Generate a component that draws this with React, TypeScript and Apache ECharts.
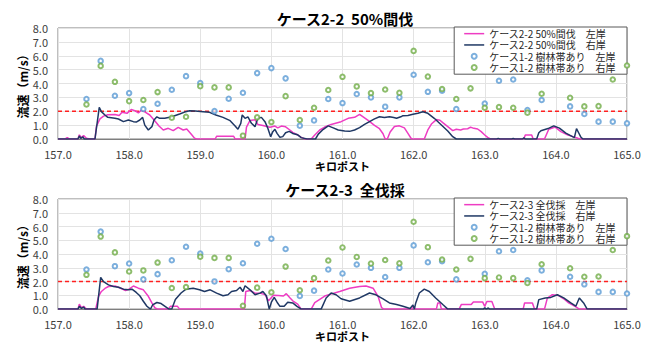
import React, { useEffect, useRef } from "react";
import * as echarts from "echarts";

// ---- data (km post, velocity m/s) ----
const case22Left: number[][] = [
  [157.0, 0], [157.1, 0], [157.13, 0.1], [157.16, 0], [157.28, 0], [157.3, 0.3], [157.33, 0.1], [157.36, 0.25], [157.4, 0.05], [157.45, 0],
  [157.52, 0], [157.54, 0.9], [157.59, 1.45], [157.64, 1.65], [157.7, 1.75], [157.8, 1.77], [157.86, 1.7], [157.9, 1.92], [157.97, 1.85],
  [158.03, 2.13], [158.08, 2.04], [158.13, 1.88], [158.17, 2.08], [158.22, 1.95], [158.29, 1.73], [158.36, 1.32], [158.42, 0.94], [158.48, 0.65],
  [158.55, 0.77], [158.62, 0.6], [158.69, 0.84], [158.76, 0.65], [158.81, 0.72], [158.88, 0.3], [158.92, 0.06], [158.95, 0],
  [159.21, 0], [159.23, 0.2], [159.47, 0.2], [159.49, 0], [159.63, 0], [159.65, 0.86], [159.7, 1.34], [159.77, 1.39], [159.81, 1.05],
  [159.88, 0.98], [159.98, 0.84], [160.05, 0.93], [160.09, 0.8], [160.14, 0.93], [160.2, 0.88], [160.26, 0.65], [160.3, 0.48], [160.37, 0.29],
  [160.42, 0.12], [160.47, 0], [160.56, 0], [160.61, 0.29], [160.68, 0.65], [160.75, 0.86], [160.84, 1.05], [160.98, 1.25], [161.08, 1.49],
  [161.17, 1.56], [161.24, 1.78], [161.29, 1.6], [161.36, 1.34], [161.45, 0.98], [161.52, 0.74], [161.57, 0.38], [161.6, 0], [161.63, 0],
  [161.67, 0.5], [161.73, 0.9], [161.8, 0.95], [161.87, 0.8], [161.92, 0.4], [161.97, 0], [162.15, 0], [162.2, 0.65], [162.25, 1.08],
  [162.32, 1.4], [162.37, 1.35], [162.41, 1.18], [162.48, 0.89], [162.55, 0.6], [162.6, 0.7], [162.66, 0.65], [162.7, 0.72], [162.76, 0.74],
  [162.8, 0.85], [162.83, 0.8], [162.9, 0.72], [162.95, 0.53], [163.0, 0.29], [163.04, 0.12], [163.08, 0], [163.55, 0], [163.57, 0.29],
  [163.66, 0.29], [163.68, 0], [163.84, 0], [163.9, 0.7], [163.99, 0.86], [164.07, 0.53], [164.17, 0.29], [164.24, 0.17], [164.31, 0.05],
  [164.35, 0], [165.0, 0],
];

const case22Right: number[][] = [
  [157.0, 0], [157.28, 0], [157.3, 0.22], [157.32, 0.05], [157.35, 0.15], [157.37, 0], [157.52, 0], [157.58, 2.28], [157.61, 1.97],
  [157.66, 1.73], [157.7, 1.56], [157.8, 1.49], [157.85, 1.44], [157.92, 1.25], [157.99, 1.37], [158.06, 1.25], [158.1, 1.22], [158.15, 1.37],
  [158.19, 1.56], [158.22, 1.0], [158.27, 0.65], [158.32, 0.89], [158.35, 1.37], [158.39, 1.6], [158.43, 1.49], [158.5, 1.49], [158.57, 1.56],
  [158.64, 1.68], [158.71, 1.8], [158.78, 1.94], [158.85, 2.04], [158.93, 2.01], [159.04, 1.97], [159.13, 1.92], [159.22, 1.73], [159.32, 1.56],
  [159.42, 1.32], [159.49, 0.94], [159.53, 0.7], [159.57, 1.13], [159.59, 1.73], [159.63, 1.49], [159.67, 1.6], [159.72, 1.13], [159.77, 0.89],
  [159.81, 1.49], [159.86, 1.56], [159.91, 1.25], [159.95, 0.77], [159.99, 0.17], [160.02, 0.53], [160.05, 0.7], [160.08, 0.41], [160.12, 0.12],
  [160.16, 0.17], [160.2, 0.45], [160.25, 0.55], [160.3, 0.4], [160.37, 0.3], [160.42, 0.1], [160.5, 0], [160.62, 0], [160.66, 0.35],
  [160.73, 0.7], [160.8, 0.95], [160.87, 0.8], [160.94, 0.65], [161.03, 0.58], [161.1, 0.55], [161.17, 0.65], [161.24, 0.82], [161.31, 1.05],
  [161.38, 1.25], [161.45, 1.45], [161.52, 1.6], [161.59, 1.55], [161.66, 1.61], [161.72, 1.55], [161.76, 1.49], [161.82, 1.6], [161.85, 1.68],
  [161.92, 1.7], [161.99, 1.78], [162.06, 1.85], [162.13, 1.97], [162.2, 1.85], [162.29, 1.49], [162.39, 1.01], [162.48, 0.58], [162.55, 0.17],
  [162.6, 0], [163.17, 0], [163.19, 0.05], [163.21, 0], [163.38, 0], [163.4, 0.04], [163.42, 0], [163.53, 0], [163.55, 0.08], [163.57, 0],
  [163.73, 0], [163.76, 0.45], [163.79, 0.6], [163.89, 0.75], [163.97, 0.95], [164.05, 0.78], [164.14, 0.42], [164.24, 0.15], [164.26, 0.1],
  [164.29, 0.75], [164.32, 0.45], [164.35, 0.15], [164.38, 0], [165.0, 0],
];

const case23Left: number[][] = [
  [157.0, 0], [157.28, 0], [157.3, 0.36], [157.33, 0.1], [157.36, 0.2], [157.4, 0], [157.53, 0], [157.57, 0.93], [157.61, 1.28],
  [157.66, 1.5], [157.71, 1.64], [157.8, 1.68], [157.85, 1.59], [157.95, 1.35], [158.0, 1.45], [158.06, 1.68], [158.13, 1.52], [158.2, 1.4],
  [158.27, 0.93], [158.32, 0.45], [158.36, 0.1], [158.4, 0], [158.55, 0], [158.58, 0.2], [158.68, 0.2], [158.71, 0], [159.62, 0],
  [159.64, 1.28], [159.7, 1.35], [159.77, 1.16], [159.84, 1.16], [159.91, 1.05], [159.96, 0.6], [160.03, 1.0], [160.1, 0.98], [160.17, 0.95],
  [160.21, 1.12], [160.26, 0.83], [160.3, 0.6], [160.37, 0.36], [160.42, 0], [160.56, 0], [160.61, 0.47], [160.68, 0.71], [160.75, 0.95],
  [160.82, 1.07], [160.96, 1.28], [161.1, 1.52], [161.24, 1.64], [161.33, 1.68], [161.43, 1.52], [161.5, 0.93], [161.55, 0.1], [161.58, 0],
  [161.98, 0], [162.0, 0.2], [162.02, 0], [162.32, 0], [162.34, 0.45], [162.37, 0.45], [162.39, 0], [162.64, 0], [162.67, 0.33],
  [162.81, 0.33], [162.84, 0.52], [162.97, 0.52], [163.0, 0.2], [163.03, 0.55], [163.1, 0.55], [163.14, 0], [163.54, 0], [163.56, 0.45],
  [163.67, 0.45], [163.7, 0], [163.84, 0], [163.88, 0.8], [163.95, 1.05], [164.04, 0.98], [164.11, 0.75], [164.18, 0.45], [164.27, 0.2],
  [164.33, 0], [165.0, 0],
];

const case23Right: number[][] = [
  [157.0, 0], [157.28, 0], [157.3, 0.2], [157.33, 0.05], [157.36, 0.15], [157.38, 0], [157.55, 0], [157.6, 2.3], [157.64, 1.99],
  [157.71, 1.76], [157.78, 1.64], [157.85, 1.59], [157.92, 1.45], [157.99, 1.4], [158.04, 1.45], [158.1, 1.21], [158.15, 0.97], [158.2, 0.57],
  [158.25, 0.21], [158.3, 0], [158.33, 0.3], [158.39, 0.48], [158.45, 0.4], [158.52, 0.15], [158.56, 0], [158.6, 0], [158.65, 0.69],
  [158.73, 1.17], [158.8, 1.45], [158.9, 1.52], [158.99, 1.4], [159.06, 1.28], [159.14, 1.4], [159.23, 1.16], [159.32, 0.97], [159.39, 1.04],
  [159.44, 1.28], [159.51, 1.35], [159.56, 1.59], [159.6, 1.28], [159.63, 1.7], [159.7, 1.4], [159.77, 1.04], [159.84, 1.16], [159.88, 1.28],
  [159.93, 0.97], [159.97, 0], [160.0, 0.5], [160.04, 0.85], [160.08, 0.5], [160.12, 0.2], [160.18, 0.2], [160.23, 0.5], [160.3, 0.45],
  [160.36, 0.2], [160.42, 0], [160.7, 0], [160.77, 0.81], [160.84, 1.17], [160.91, 1.04], [160.98, 0.75], [161.1, 0.57], [161.24, 0.81],
  [161.38, 1.17], [161.47, 1.04], [161.57, 0.74], [161.66, 0.45], [161.76, 0.33], [161.85, 0.21], [161.95, 0.05], [161.99, 0.3], [162.01, 0],
  [162.03, 0.45], [162.08, 1.17], [162.15, 1.45], [162.22, 1.28], [162.31, 0.81], [162.41, 0.33], [162.48, 0], [162.98, 0], [163.0, 0.1],
  [163.02, 0], [163.05, 0.08], [163.07, 0], [163.73, 0], [163.76, 0.69], [163.85, 0.81], [163.93, 0.85], [164.02, 1.04], [164.11, 0.81],
  [164.21, 0.45], [164.28, 0.21], [164.33, 0.81], [164.39, 0.45], [164.44, 0], [165.0, 0],
];

// ケース1-2 樹林帯あり (points every 0.2 km)
const forestKm: number[] = [
  157.4, 157.6, 157.8, 158.0, 158.2, 158.4, 158.6, 158.8, 159.0, 159.2, 159.4, 159.6, 159.8, 160.0, 160.2, 160.4, 160.6, 160.8,
  161.0, 161.2, 161.4, 161.6, 161.8, 162.0, 162.2, 162.4, 162.6, 162.8, 163.0, 163.2, 163.4, 163.6, 163.8, 164.0, 164.2, 164.4, 164.6, 164.8, 165.0,
];
const forestLeft: (number | null)[] = [
  2.88, 5.63, 3.12, 3.31, 2.16, 2.54, 3.55, 4.53, 4.03, 2.01, 2.9, 3.33, 4.75, 5.11, 4.37, 0.96, 1.34, 2.88,
  2.59, 3.24, 3.0, 2.33, 3.0, 4.63, 3.4, 3.48, 2.16, null, 2.56, 4.2, 4.29, 2.09, 2.81, null, 2.35, 1.8, 1.25, 1.25, 1.13,
];
const forestRight: (number | null)[] = [
  2.49, 5.27, 4.12, 2.73, 2.81, 3.38, 1.53, 1.6, 3.81, 3.72, 3.72, 0.24, 1.56, 1.22, 3.09, 1.37, 2.25, 3.53,
  4.48, 3.79, 3.31, 3.57, 3.33, 6.35, 4.5, 3.6, 2.88, 3.65, 2.25, 2.3, 2.25, 1.9, 3.26, null, 2.97, 2.35, 2.37, 4.29, 5.3,
];

const thresholdValue = 2.0;
const kmRange = [157.0, 165.0];
const velRange = [0, 8];

const titles = ["ケース2-2  50%間伐", "ケース2-3  全伐採"];
const nameC22L = "ケース2-2 50%間伐　左岸";
const nameC22R = "ケース2-2 50%間伐　右岸";
const nameC23L = "ケース2-3 全伐採　左岸";
const nameC23R = "ケース2-3 全伐採　右岸";
const nameFL = "ケース1-2 樹林帯あり　左岸";
const nameFR = "ケース1-2 樹林帯あり　右岸";

const FONT = '"Noto Sans CJK JP", "Noto Sans", sans-serif';
const PINK = "#ee3cc3";
const NAVY = "#1f3864";
const BLUE = "#5b9bd5";
const GREEN = "#70ad47";
const LINE_ICON = "path://M0,0 L40,0 L40,3 L0,3 Z";

function pts(vals: (number | null)[]) {
  const out: number[][] = [];
  forestKm.forEach((k, i) => {
    const v = vals[i];
    if (v !== null && v !== undefined) out.push([k, v]);
  });
  return out;
}

export default function App() {
  const ref = useRef<HTMLDivElement>(null);
  useEffect(() => {
    if (!ref.current) return;
    const chart = echarts.init(ref.current, null, { renderer: "svg" });
    const grids = [
      { left: 58, right: 28, top: 28, height: 111 },
      { left: 58, right: 28, top: 199, height: 113 },
    ];
    const xAxes = grids.map((_, i) => ({
      type: "value",
      gridIndex: i,
      min: kmRange[0],
      max: kmRange[1],
      interval: 1,
      name: "キロポスト",
      nameLocation: "middle",
      nameGap: i === 0 ? 19 : 17,
      nameTextStyle: { fontSize: 11, fontWeight: "bold", color: "#000", fontFamily: FONT, lineHeight: 12 },
      axisLine: { show: true, lineStyle: { color: "#7f7f7f", width: 1 } },
      axisTick: { show: false },
      axisLabel: {
        fontSize: 11,
        color: "#404040",
        fontFamily: FONT,
        margin: 9,
        formatter: (v: number) => v.toFixed(1),
      },
      splitLine: { show: true, lineStyle: { color: "#e3e3e3", width: 1 } },
    }));
    const yAxes = grids.map((_, i) => ({
      type: "value",
      gridIndex: i,
      min: velRange[0],
      max: velRange[1],
      interval: 1,
      name: "流速（m/s）",
      nameLocation: "middle",
      nameGap: 30,
      nameMoveOverlap: false,
      nameRotate: 90,
      nameTextStyle: { fontSize: 12, fontWeight: "bold", color: "#000", fontFamily: FONT },
      axisLine: { show: false },
      axisTick: { show: false },
      axisLabel: {
        fontSize: 11,
        color: "#404040",
        fontFamily: FONT,
        margin: 10,
        formatter: (v: number) => v.toFixed(1),
      },
      splitLine: { show: true, lineStyle: { color: "#e3e3e3", width: 1 } },
    }));

    const lineS = (name: string, data: number[][], color: string, gi: number) => ({
      type: "line",
      name,
      data,
      xAxisIndex: gi,
      yAxisIndex: gi,
      symbol: "none",
      showSymbol: false,
      lineStyle: { color, width: 1.5 },
      itemStyle: { color },
      z: 3,
    });
    const scatterS = (name: string, vals: (number | null)[], color: string, gi: number) => ({
      type: "scatter",
      name,
      data: pts(vals),
      xAxisIndex: gi,
      yAxisIndex: gi,
      symbol: "emptyCircle",
      symbolSize: 4.5,
      itemStyle: { color, borderColor: color, borderWidth: 1.2 },
      z: 4,
    });
    const threshS = (gi: number) => ({
      type: "line",
      name: "threshold",
      data: [
        [kmRange[0], thresholdValue],
        [kmRange[1], thresholdValue],
      ],
      xAxisIndex: gi,
      yAxisIndex: gi,
      symbol: "none",
      lineStyle: { color: "#ff2020", width: 1.5, type: [4, 3] },
      z: 2,
    });

    const legendBase = {
      orient: "vertical",
      right: 28,
      backgroundColor: "#fff",
      borderColor: "#595959",
      borderWidth: 1,
      padding: [1, 11, 1, 10],
      itemGap: 0,
      itemWidth: 20,
      itemHeight: 5,
      textStyle: { fontSize: 10, lineHeight: 11.3, color: "#262626", fontFamily: FONT },
    };
    const legendData = (l: string, r: string) => [
      { name: l, icon: LINE_ICON },
      { name: r, icon: LINE_ICON },
      { name: nameFL },
      { name: nameFR },
    ];

    chart.setOption({
      animation: false,
      backgroundColor: "#fff",
      title: titles.map((t, i) => ({
        text: t,
        left: 340,
        top: i === 0 ? 6 : 177,
        textAlign: "center",
        textStyle: { fontSize: 15, fontWeight: "bold", color: "#000", fontFamily: FONT },
      })),
      legend: [
        { ...legendBase, top: 27, data: legendData(nameC22L, nameC22R) },
        { ...legendBase, top: 198, data: legendData(nameC23L, nameC23R) },
      ],
      grid: grids.map((g) => ({ ...g, show: true, borderColor: "#7f7f7f", borderWidth: 1, backgroundColor: "transparent" })),
      xAxis: xAxes,
      yAxis: yAxes,
      series: [
        threshS(0),
        lineS(nameC22L, case22Left, PINK, 0),
        lineS(nameC22R, case22Right, NAVY, 0),
        scatterS(nameFL, forestLeft, BLUE, 0),
        scatterS(nameFR, forestRight, GREEN, 0),
        threshS(1),
        lineS(nameC23L, case23Left, PINK, 1),
        lineS(nameC23R, case23Right, NAVY, 1),
        scatterS(nameFL, forestLeft, BLUE, 1),
        scatterS(nameFR, forestRight, GREEN, 1),
      ],
    });
    return () => chart.dispose();
  }, []);
  return (
    <div
      ref={ref}
      style={{ position: "fixed", left: 0, top: 0, width: 655, height: 343, background: "#fff" }}
    />
  );
}
